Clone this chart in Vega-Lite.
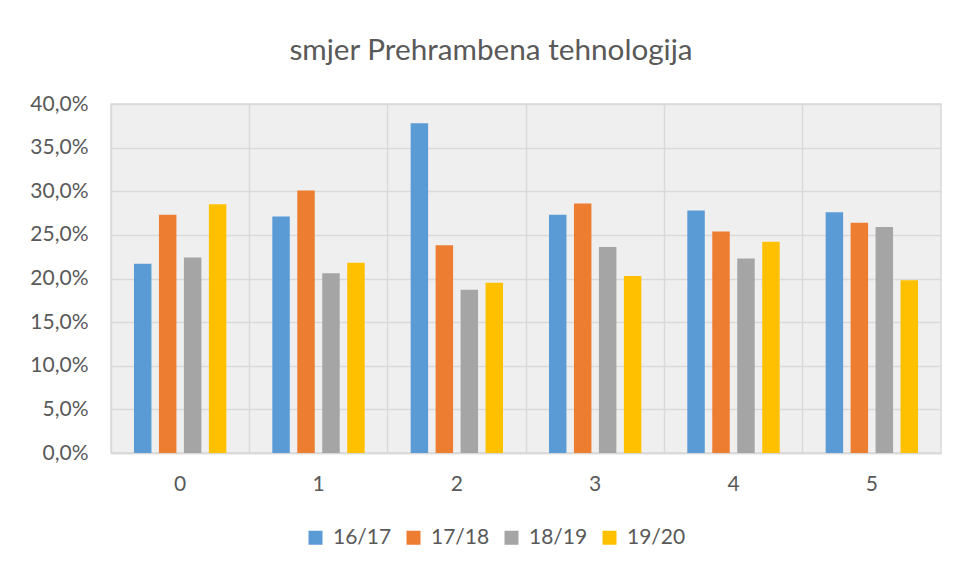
{
  "$schema": "https://vega.github.io/schema/vega-lite/v6.json",
  "width": 830,
  "height": 349,
  "padding": {"left": 29, "top": 36, "right": 17, "bottom": 10},
  "background": "white",
  "title": {
    "text": "smjer Prehrambena tehnologija",
    "font": "Lato",
    "fontSize": 29.7,
    "fontWeight": "normal",
    "color": "#595959",
    "anchor": "middle",
    "frame": "group",
    "dx": -35,
    "offset": 26
  },
  "data": {
    "values": [
      {"cat": "0", "year": "16/17", "v": 21.7},
      {"cat": "0", "year": "17/18", "v": 27.3},
      {"cat": "0", "year": "18/19", "v": 22.4},
      {"cat": "0", "year": "19/20", "v": 28.5},
      {"cat": "1", "year": "16/17", "v": 27.1},
      {"cat": "1", "year": "17/18", "v": 30.1},
      {"cat": "1", "year": "18/19", "v": 20.6},
      {"cat": "1", "year": "19/20", "v": 21.8},
      {"cat": "2", "year": "16/17", "v": 37.8},
      {"cat": "2", "year": "17/18", "v": 23.8},
      {"cat": "2", "year": "18/19", "v": 18.7},
      {"cat": "2", "year": "19/20", "v": 19.5},
      {"cat": "3", "year": "16/17", "v": 27.3},
      {"cat": "3", "year": "17/18", "v": 28.6},
      {"cat": "3", "year": "18/19", "v": 23.6},
      {"cat": "3", "year": "19/20", "v": 20.3},
      {"cat": "4", "year": "16/17", "v": 27.8},
      {"cat": "4", "year": "17/18", "v": 25.4},
      {"cat": "4", "year": "18/19", "v": 22.3},
      {"cat": "4", "year": "19/20", "v": 24.2},
      {"cat": "5", "year": "16/17", "v": 27.6},
      {"cat": "5", "year": "17/18", "v": 26.4},
      {"cat": "5", "year": "18/19", "v": 25.9},
      {"cat": "5", "year": "19/20", "v": 19.8}
    ]
  },
  "mark": {"type": "bar"},
  "encoding": {
    "x": {
      "field": "cat",
      "type": "nominal",
      "sort": null,
      "scale": {"paddingInner": 0, "paddingOuter": 0},
      "axis": {
        "title": null,
        "labelAngle": 0,
        "labelFont": "Lato",
        "labelFontSize": 21,
        "labelColor": "#595959",
        "labelPadding": 20,
        "ticks": false,
        "domain": true,
        "domainColor": "#d9d9d9",
        "domainWidth": 1.5,
        "grid": true,
        "bandPosition": 0,
        "gridColor": "#d9d9d9",
        "gridWidth": 1.5
      }
    },
    "xOffset": {
      "field": "year",
      "type": "nominal",
      "scale": {"paddingInner": 0.3, "paddingOuter": 0.92}
    },
    "y": {
      "field": "v",
      "type": "quantitative",
      "scale": {"domain": [0, 40], "nice": false},
      "axis": {
        "title": null,
        "values": [0, 5, 10, 15, 20, 25, 30, 35, 40],
        "labelExpr": "replace(format(datum.value, '.1f'), '.', ',') + '%'",
        "labelFont": "Lato",
        "labelFontSize": 21,
        "labelColor": "#595959",
        "labelPadding": 23,
        "ticks": false,
        "domain": false,
        "grid": true,
        "gridColor": "#d9d9d9",
        "gridWidth": 1.5
      }
    },
    "color": {
      "field": "year",
      "type": "nominal",
      "scale": {
        "domain": ["16/17", "17/18", "18/19", "19/20"],
        "range": ["#5b9bd5", "#ed7d31", "#a5a5a5", "#ffc000"]
      },
      "legend": {
        "title": null,
        "orient": "none",
        "direction": "horizontal",
        "legendX": 194,
        "legendY": 423,
        "symbolType": "square",
        "symbolSize": 196,
        "symbolStrokeWidth": 0,
        "labelFont": "Lato",
        "labelFontSize": 21,
        "labelColor": "#595959",
        "labelOffset": 7,
        "columnPadding": 11
      }
    }
  },
  "config": {
    "view": {"fill": "#efefef", "stroke": "#d9d9d9", "strokeWidth": 1.5}
  }
}
